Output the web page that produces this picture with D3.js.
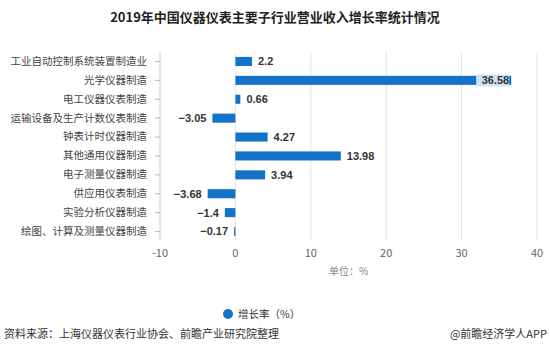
<!DOCTYPE html>
<html>
<head>
<meta charset="utf-8">
<script src="https://cdn.jsdelivr.net/npm/d3@7"></script>
<style>
  body { margin: 0; background: #fff; }
  svg { font-family: "Microsoft YaHei", "Noto Sans CJK SC", sans-serif; }
</style>
</head>
<body>
<div id="chart"></div>
<script>
const categories = [
  "工业自动控制系统装置制造业", "光学仪器制造", "电工仪器仪表制造", "运输设备及生产计数仪表制造",
  "钟表计时仪器制造", "其他通用仪器制造", "电子测量仪器制造", "供应用仪表制造",
  "实验分析仪器制造", "绘图、计算及测量仪器制造"
];
const values = [2.2, 36.58, 0.66, -3.05, 4.27, 13.98, 3.94, -3.68, -1.4, -0.17];
const xTicks = [-10, 0, 10, 20, 30, 40];

const W = 550, H = 352;
const margin = { top: 52, left: 160, right: 12, bottom: 111 };

const svg = d3.select("#chart").append("svg").attr("width", W).attr("height", H);

const x = d3.scaleLinear().domain([-10, 40]).range([margin.left, 537]);
const y = d3.scaleBand().domain(categories).range([margin.top, H - margin.bottom]).paddingInner(0.52).paddingOuter(0.26);

svg.append("text").attr("x", W / 2).attr("y", 22).attr("text-anchor", "middle")
  .style("font-size", "13px").style("font-weight", "bold").style("fill", "#222")
  .text("2019年中国仪器仪表主要子行业营业收入增长率统计情况");

// grid
svg.append("g").selectAll("line").data(xTicks.slice(1)).join("line")
  .attr("x1", d => x(d)).attr("x2", d => x(d))
  .attr("y1", margin.top).attr("y2", H - margin.bottom)
  .attr("stroke", "#e3e3e3");

// x tick labels
svg.append("g").selectAll("text").data(xTicks).join("text")
  .attr("x", d => x(d)).attr("y", H - margin.bottom + 16)
  .attr("text-anchor", "middle").style("font-size", "11px").style("fill", "#666")
  .text(d => d);

svg.append("text").attr("x", x(15)).attr("y", 275).attr("text-anchor", "middle")
  .style("font-size", "10px").style("fill", "#888").text("单位：%");

// y axis
const yAxis = svg.append("g").attr("transform", `translate(${margin.left},0)`)
  .call(d3.axisLeft(y).tickSize(5).tickPadding(8));
yAxis.select(".domain").attr("stroke", "#ccc").attr("d", `M0,${margin.top}V${H - margin.bottom}`);
yAxis.selectAll(".tick line").attr("stroke", "#bbb");
yAxis.selectAll(".tick text").style("font-size", "10.5px").style("fill", "#444")
  .style("font-family", "'Microsoft YaHei', 'Noto Sans CJK SC', sans-serif");

// bars
svg.append("g").selectAll("rect").data(values).join("rect")
  .attr("x", d => x(Math.min(0, d)))
  .attr("y", (d, i) => y(categories[i]))
  .attr("width", d => Math.abs(x(d) - x(0)))
  .attr("height", y.bandwidth())
  .attr("fill", "#1373c8");

// labels
const lbl = svg.append("g").selectAll("g").data(values).join("g");
lbl.each(function (d, i) {
  const g = d3.select(this);
  const cy = y(categories[i]) + y.bandwidth() / 2;
  const big = x(d) > 500;
  const tx = big ? x(d) - 2 : d >= 0 ? x(d) + 6 : x(d) - 6;
  const anchor = big || d < 0 ? "end" : "start";
  if (big) {
    g.append("rect").attr("x", tx - 33).attr("y", cy - 6).attr("width", 33).attr("height", 12)
      .attr("fill", "#cfe3f5");
  }
  g.append("text").attr("x", tx).attr("y", cy).attr("dy", "0.35em")
    .attr("text-anchor", anchor)
    .style("font-size", "11px").style("font-weight", "bold").style("fill", "#333")
    .style("font-family", "Arial, 'Liberation Sans', sans-serif")
    .text(d < 0 ? "\u2212" + Math.abs(d) : d);
});

// legend
svg.append("circle").attr("cx", 228).attr("cy", 314).attr("r", 5).attr("fill", "#1373c8");
svg.append("text").attr("x", 238).attr("y", 318).style("font-size", "10.5px").style("fill", "#333")
  .text("增长率（%）");

// footer
svg.append("text").attr("x", 4).attr("y", 338).style("font-size", "11px").style("fill", "#333")
  .text("资料来源：上海仪器仪表行业协会、前瞻产业研究院整理");
svg.append("text").attr("x", 547).attr("y", 338).attr("text-anchor", "end")
  .style("font-size", "11px").style("fill", "#333").text("@前瞻经济学人APP");
</script>
</body>
</html>
